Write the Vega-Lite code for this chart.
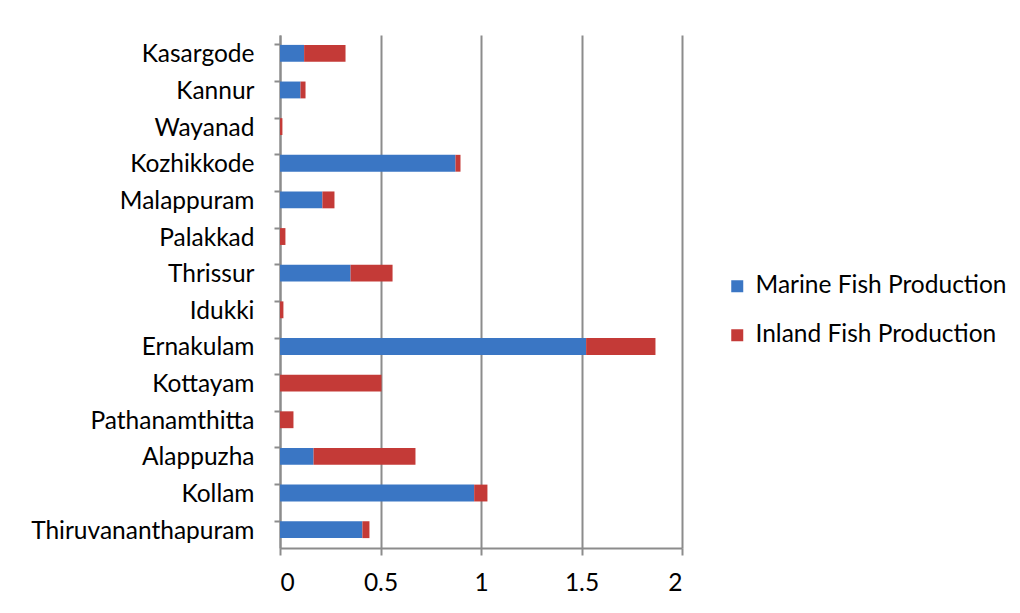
{
  "$schema": "https://vega.github.io/schema/vega-lite/v6.json",
  "width": 402,
  "height": 513,
  "autosize": "none",
  "padding": {"left": 280, "top": 35, "right": 338, "bottom": 65},
  "background": "white",
  "config": {
    "font": "Lato",
    "view": {"stroke": null},
    "axis": {"labelFont": "Lato", "labelFontSize": 24.5, "labelColor": "#000000", "labelLimit": 0}
  },
  "data": {
    "values": [
      {"district": "Kasargode", "series": "Marine Fish Production", "value": 0.12},
      {"district": "Kasargode", "series": "Inland Fish Production", "value": 0.206},
      {"district": "Kannur", "series": "Marine Fish Production", "value": 0.102},
      {"district": "Kannur", "series": "Inland Fish Production", "value": 0.025},
      {"district": "Wayanad", "series": "Marine Fish Production", "value": 0},
      {"district": "Wayanad", "series": "Inland Fish Production", "value": 0.012},
      {"district": "Kozhikkode", "series": "Marine Fish Production", "value": 0.873},
      {"district": "Kozhikkode", "series": "Inland Fish Production", "value": 0.025},
      {"district": "Malappuram", "series": "Marine Fish Production", "value": 0.211},
      {"district": "Malappuram", "series": "Inland Fish Production", "value": 0.06},
      {"district": "Palakkad", "series": "Marine Fish Production", "value": 0},
      {"district": "Palakkad", "series": "Inland Fish Production", "value": 0.027},
      {"district": "Thrissur", "series": "Marine Fish Production", "value": 0.351},
      {"district": "Thrissur", "series": "Inland Fish Production", "value": 0.209},
      {"district": "Idukki", "series": "Marine Fish Production", "value": 0},
      {"district": "Idukki", "series": "Inland Fish Production", "value": 0.017},
      {"district": "Ernakulam", "series": "Marine Fish Production", "value": 1.523},
      {"district": "Ernakulam", "series": "Inland Fish Production", "value": 0.345},
      {"district": "Kottayam", "series": "Marine Fish Production", "value": 0},
      {"district": "Kottayam", "series": "Inland Fish Production", "value": 0.505},
      {"district": "Pathanamthitta", "series": "Marine Fish Production", "value": 0},
      {"district": "Pathanamthitta", "series": "Inland Fish Production", "value": 0.067},
      {"district": "Alappuzha", "series": "Marine Fish Production", "value": 0.167},
      {"district": "Alappuzha", "series": "Inland Fish Production", "value": 0.507},
      {"district": "Kollam", "series": "Marine Fish Production", "value": 0.966},
      {"district": "Kollam", "series": "Inland Fish Production", "value": 0.066},
      {"district": "Thiruvananthapuram", "series": "Marine Fish Production", "value": 0.41},
      {"district": "Thiruvananthapuram", "series": "Inland Fish Production", "value": 0.035}
    ]
  },
  "mark": {"type": "bar"},
  "encoding": {
    "y": {
      "field": "district",
      "type": "nominal",
      "sort": ["Kasargode", "Kannur", "Wayanad", "Kozhikkode", "Malappuram", "Palakkad", "Thrissur", "Idukki", "Ernakulam", "Kottayam", "Pathanamthitta", "Alappuzha", "Kollam", "Thiruvananthapuram"],
      "scale": {"paddingInner": 0.54, "paddingOuter": 0.27},
      "axis": {
        "title": null,
        "bandPosition": 0,
        "domainColor": "#8c8c8c",
        "domainWidth": 2,
        "tickColor": "#8c8c8c",
        "tickWidth": 2,
        "tickSize": 6,
        "labelPadding": 20,
        "labelOffset": 2,
        "grid": false
      }
    },
    "x": {
      "field": "value",
      "type": "quantitative",
      "stack": "zero",
      "scale": {"domain": [0, 2], "nice": false},
      "axis": {
        "title": null,
        "values": [0, 0.5, 1, 1.5, 2],
        "format": "~g",
        "grid": true,
        "gridColor": "#8c8c8c",
        "gridWidth": 2,
        "domainColor": "#8c8c8c",
        "domainWidth": 2,
        "tickColor": "#8c8c8c",
        "tickWidth": 2,
        "tickSize": 7,
        "labelPadding": 16
      }
    },
    "color": {
      "field": "series",
      "type": "nominal",
      "scale": {
        "domain": ["Marine Fish Production", "Inland Fish Production"],
        "range": ["#3a76c4", "#c43a37"]
      },
      "legend": {
        "title": null,
        "orient": "none",
        "legendX": 445,
        "legendY": 239,
        "symbolType": "square",
        "symbolSize": 144,
        "symbolStrokeWidth": 0,
        "labelFont": "Lato",
        "labelFontSize": 24.5,
        "labelLimit": 0,
        "labelColor": "#000000",
        "rowPadding": 24,
        "labelOffset": 6
      }
    },
    "order": {"field": "series", "sort": "descending"}
  }
}
